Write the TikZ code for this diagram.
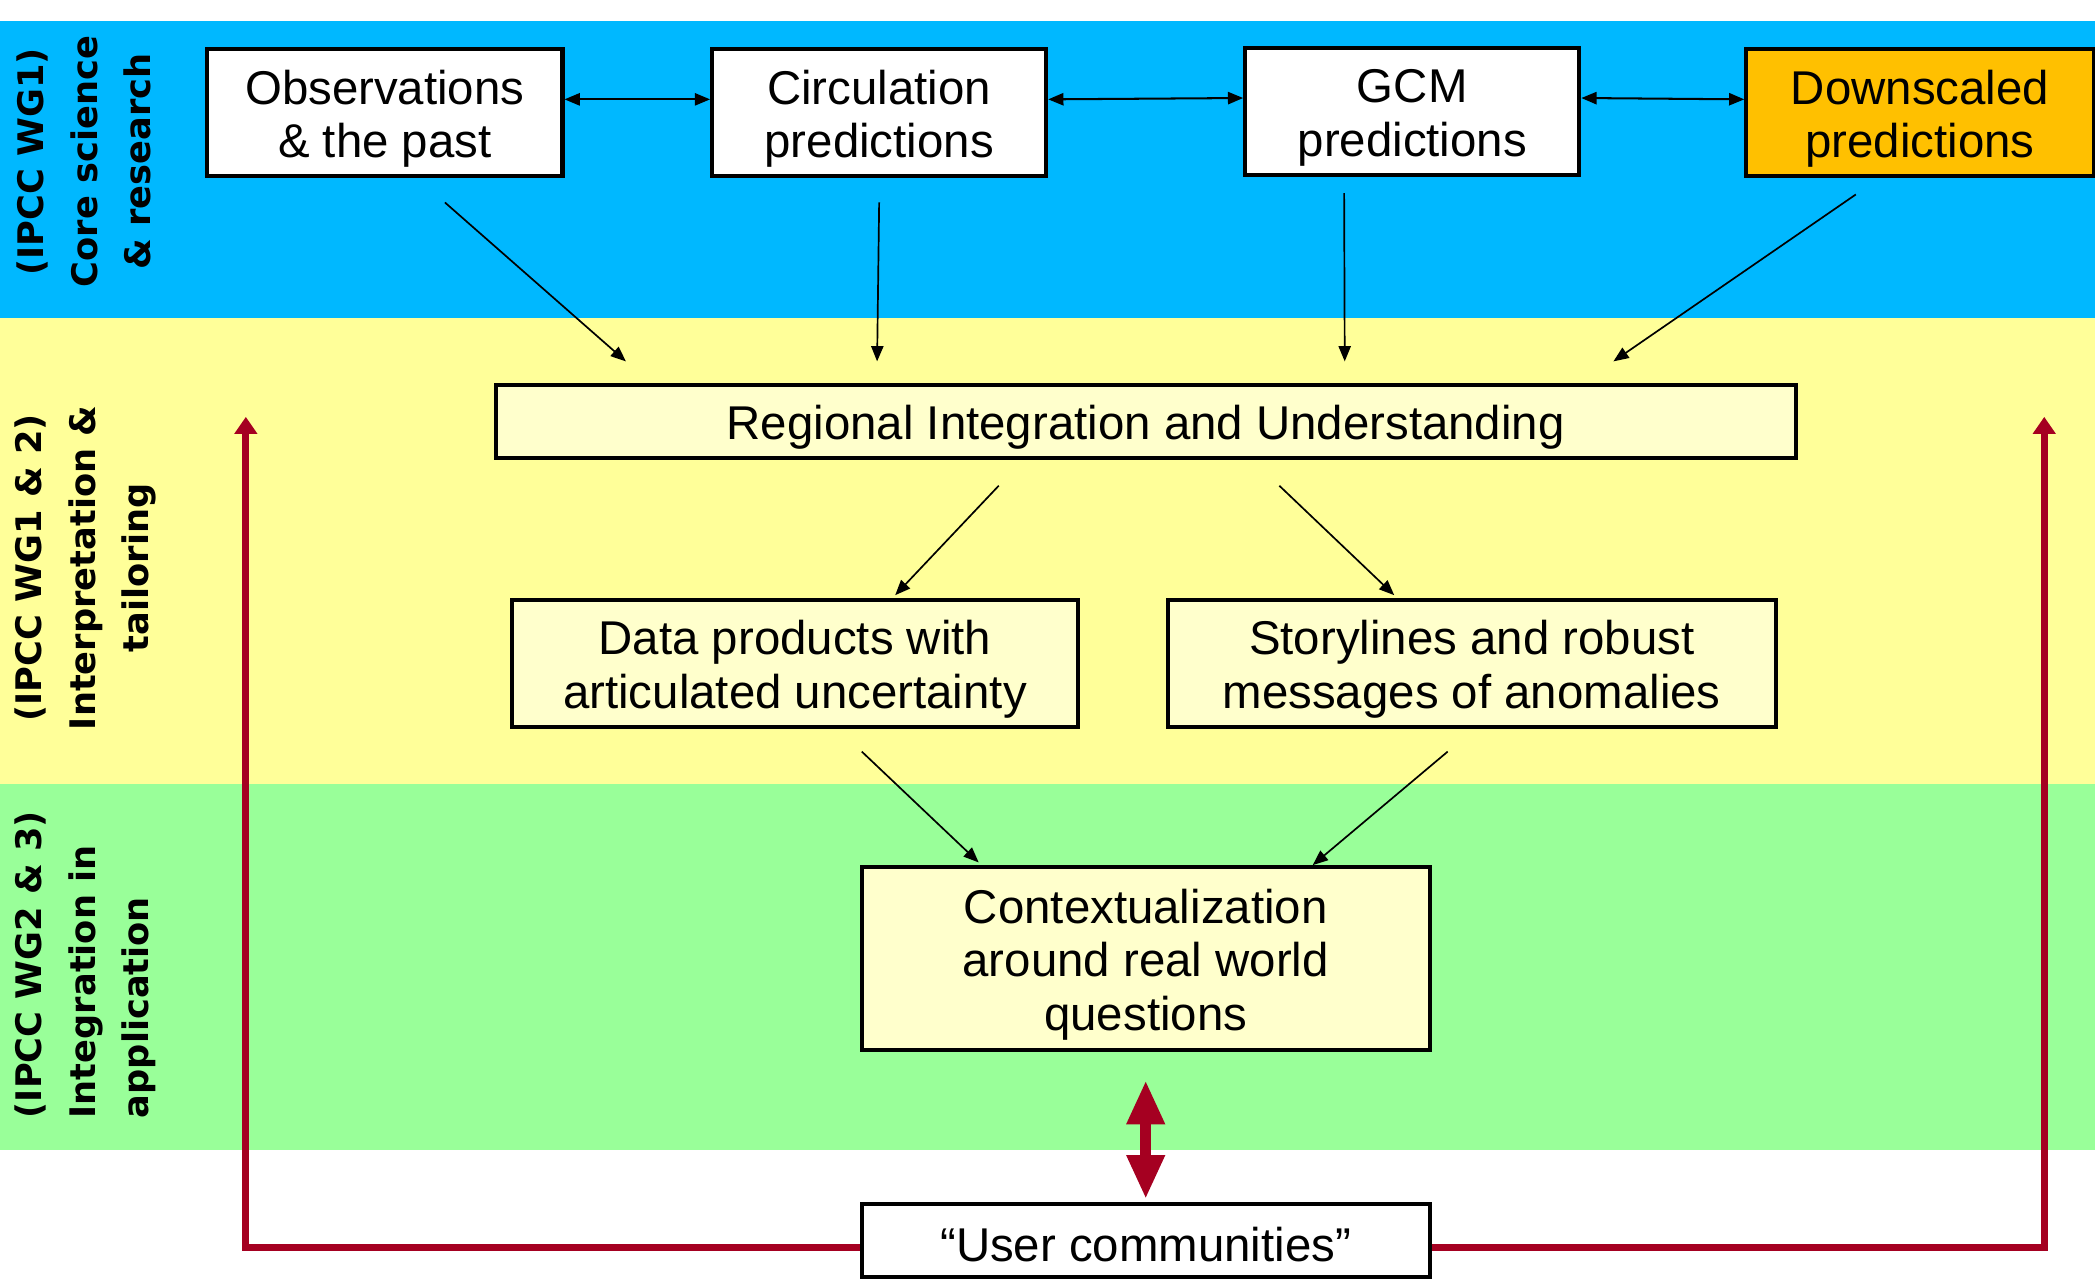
\documentclass[tikz,border=0pt]{standalone}
\usepackage{fontspec}
\setmainfont{Liberation Sans}
\newfontfamily\bandfont{DejaVu Sans}
\usetikzlibrary{arrows.meta}
\definecolor{bandblue}{RGB}{0,184,255}
\definecolor{bandyellow}{RGB}{255,255,153}
\definecolor{bandgreen}{RGB}{153,255,153}
\definecolor{boxyellow}{RGB}{255,255,204}
\definecolor{downorange}{RGB}{255,192,0}
\definecolor{userred}{RGB}{165,0,33}
\newcommand{\boxstrut}{\rule{0pt}{13.5pt}}

\begin{document}
\begin{tikzpicture}[x=0.01387cm, y=-0.01387cm,
  box/.style={draw, line width=1.2pt, fill=white, align=center, inner sep=0pt,
    font=\fontsize{14}{15.8}\selectfont},
  lab/.style={rotate=90, align=center, font=\bandfont\bfseries\fontsize{10.4}{15.8}\selectfont},
  arr/.style={-{Triangle[length=4.5pt,width=3.6pt]}, line width=0.5pt},
  link/.style={{Triangle[length=4.5pt,width=3.6pt]}-{Triangle[length=4.5pt,width=3.6pt]}, line width=0.6pt},
  feedback/.style={draw=userred, line width=2pt, -{Triangle[length=5pt,width=6.5pt]}},
  bigarrow/.style={draw=userred, line width=3.4pt,
    {Triangle[length=13pt,width=10.5pt]}-{Triangle[length=13pt,width=10.5pt]}}]
\useasboundingbox (0,0) rectangle (1568,958);
\fill[bandblue] (0,16) rectangle (1568,238);
\fill[bandyellow] (0,238) rectangle (1568,587);
\fill[bandgreen] (0,587) rectangle (1568,861);

\node[lab] (wgone) at (63,121) {(IPCC WG1)\\Core science\\\& research};
\node[lab] (wgtwo) at (64,425) {(IPCC WG1 \& 2)\\Interpretation \&\\tailoring};
\node[lab, align=left] (wgthree) at (64,722) {(IPCC WG2 \& 3)\\Integration in\\application};

\node[box, minimum width=3.689cm, minimum height=1.318cm] (obs) at (288,84.5) {\boxstrut Observations\\\& the past};
\node[box, minimum width=3.468cm, minimum height=1.318cm] (circ) at (658,84.5) {\boxstrut Circulation\\predictions};
\node[box, minimum width=3.468cm, minimum height=1.318cm] (gcm) at (1057,83.5) {\boxstrut GCM\\predictions};
\node[box, fill=downorange, minimum width=3.606cm, minimum height=1.318cm] (down) at (1437,84.5) {\boxstrut Downscaled\\predictions};
\node[box, fill=boxyellow, minimum width=13.496cm, minimum height=0.763cm] (reg) at (857.5,315.5) {\boxstrut Regional Integration and Understanding};
\node[box, fill=boxyellow, minimum width=5.881cm, minimum height=1.318cm] (data) at (595,496.5) {\boxstrut Data products with\\articulated uncertainty};
\node[box, fill=boxyellow, minimum width=6.311cm, minimum height=1.318cm] (story) at (1101.5,496.5) {\boxstrut Storylines and robust\\messages of anomalies};
\node[box, fill=boxyellow, minimum width=5.895cm, minimum height=1.9cm] (ctx) at (857.5,717.5) {\boxstrut Contextualization\\around real world\\questions};
\node[box, minimum width=5.895cm, minimum height=0.763cm] (user) at (857.5,928.5) {\rule{0pt}{12.5pt}“User communities”};

\draw[link] ([yshift=4pt]obs.east) -- ([yshift=4pt]circ.west);
\draw[link] ([yshift=4pt]circ.east) -- ([yshift=4pt]gcm.west);
\draw[link] ([yshift=4pt]gcm.east) -- ([yshift=4pt]down.west);

\draw[arr] ([shift={(45,18)}]obs.south) -- ([shift={(99,-16)}]reg.north west);
\draw[arr] ([shift={(0,18)}]circ.south) -- ([shift={(287,-16)}]reg.north west);
\draw[arr] ([shift={(-51,12)}]gcm.south) -- ([shift={(637,-16)}]reg.north west);
\draw[arr] ([shift={(-48,12)}]down.south) -- ([shift={(-138,-16)}]reg.north east);
\draw[arr] ([shift={(-110,19)}]reg.south) -- ([shift={(75,-2)}]data.north);
\draw[arr] ([shift={(100,19)}]reg.south) -- ([shift={(-58,-2)}]story.north);
\draw[arr] ([shift={(50,17)}]data.south) -- ([shift={(-125,-2)}]ctx.north);
\draw[arr] ([shift={(-18,17)}]story.south) -- ([shift={(125,0)}]ctx.north);

\coordinate (leftend) at (184,312);
\coordinate (rightend) at (1530,312);
\draw[bigarrow] ([shift={(0,21)}]ctx.south) -- ([shift={(0,-2)}]user.north);
\draw[feedback] ([yshift=-2pt]user.west) -| (leftend);
\draw[feedback] ([yshift=-2pt]user.east) -| (rightend);
\end{tikzpicture}
\end{document}
